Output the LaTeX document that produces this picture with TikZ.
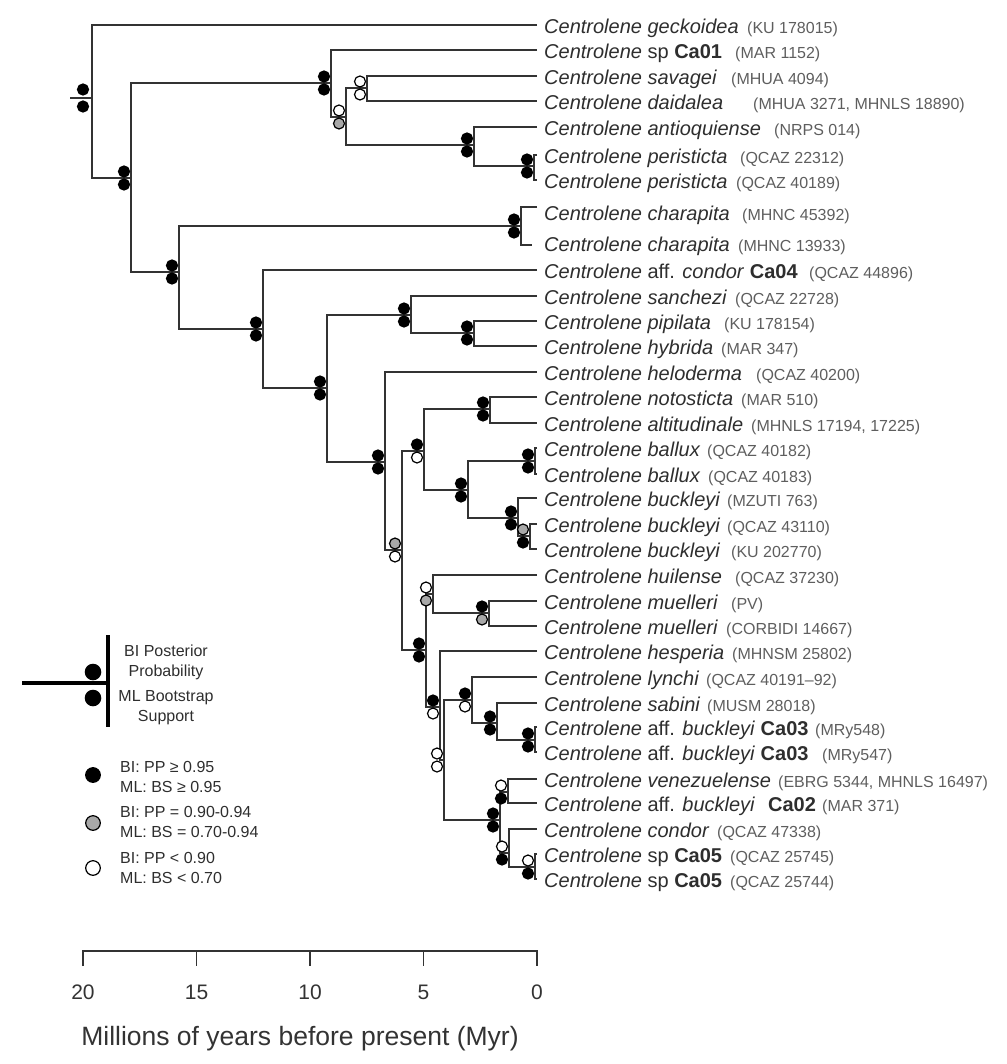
\documentclass[tikz,border=0pt]{standalone}
\usepackage{fontspec}
\setmainfont{Liberation Sans}
\definecolor{branchc}{HTML}{333333}
\definecolor{namec}{HTML}{2E2E2E}
\definecolor{catc}{HTML}{5E5E5E}
\definecolor{midgray}{HTML}{A8A8A8}
\tikzset{
  branch/.style={draw=branchc, line width=1.7pt},
  tname/.style={anchor=base west, inner sep=0pt, yshift=-8.5pt, text=namec, font=\fontsize{20}{24}\selectfont},
  tcat/.style={anchor=base west, inner sep=0pt, yshift=-8.5pt, text=catc, font=\fontsize{16}{19}\selectfont},
  lgtext/.style={inner sep=0pt, text=namec, font=\fontsize{16}{20}\selectfont},
  mk/.style={draw=black, line width=1.2pt},
}
% two support circles left of a node: BI on top, ML below
\newcommand{\nodesupport}[3]{%
  \draw[mk,fill=#2] ([shift={(-7,-6.5)}]#1) circle[radius=5.5pt];
  \draw[mk,fill=#3] ([shift={(-7,6.5)}]#1) circle[radius=5.5pt];}

\begin{document}
\begin{tikzpicture}[x=1pt,y=-1pt]
  \useasboundingbox (0,0) rectangle (1006,1064);
  % tips
  \coordinate (t1) at (537,25);   \coordinate (t2) at (537,50);
  \coordinate (t3) at (537,76);   \coordinate (t4) at (537,101);
  \coordinate (t5) at (537,127);  \coordinate (t6) at (537,155);
  \coordinate (t7) at (537,180);  \coordinate (t8) at (537,207);
  \coordinate (t9) at (532,245);  \coordinate (t10) at (537,270);
  \coordinate (t11) at (537,296); \coordinate (t12) at (537,321);
  \coordinate (t13) at (537,346); \coordinate (t14) at (537,372);
  \coordinate (t15) at (537,397); \coordinate (t16) at (537,423);
  \coordinate (t17) at (537,448); \coordinate (t18) at (537,474);
  \coordinate (t19) at (537,498); \coordinate (t20) at (537,524);
  \coordinate (t21) at (537,549); \coordinate (t22) at (537,575);
  \coordinate (t23) at (537,601); \coordinate (t24) at (537,626);
  \coordinate (t25) at (537,651); \coordinate (t26) at (537,677);
  \coordinate (t27) at (537,703); \coordinate (t28) at (537,727);
  \coordinate (t29) at (537,752); \coordinate (t30) at (537,779);
  \coordinate (t31) at (537,803); \coordinate (t32) at (537,829);
  \coordinate (t33) at (537,854); \coordinate (t34) at (537,879);
  % internal nodes
  \coordinate (r0) at (70,98);    \coordinate (rt) at (92,98);
  \coordinate (nA) at (131,178);  \coordinate (nB) at (331,83);
  \coordinate (nC) at (346,117);  \coordinate (nD) at (367,88);
  \coordinate (nE) at (474,145);  \coordinate (nF) at (534,166);
  \coordinate (nH) at (179,272);  \coordinate (nG) at (521,226);
  \coordinate (nI) at (263,329);  \coordinate (nL) at (327,388);
  \coordinate (nJ) at (411,315);  \coordinate (nK) at (474,333);
  \coordinate (nM) at (385,462);  \coordinate (nN) at (402,550);
  \coordinate (nO) at (424,451);  \coordinate (nP) at (490,409);
  \coordinate (nQ) at (468,490);  \coordinate (nR) at (535,461);
  \coordinate (nS) at (518,518);  \coordinate (nT) at (530,536);
  \coordinate (nU) at (426,650);  \coordinate (nUa) at (433,594);
  \coordinate (nUb) at (489,613); \coordinate (nV) at (440,707);
  \coordinate (nW) at (444,760);  \coordinate (nX) at (472,700);
  \coordinate (nY) at (497,723);  \coordinate (nZ) at (535,740);
  \coordinate (nCo) at (500,820); \coordinate (nVe) at (508,792);
  \coordinate (nCd) at (509,853); \coordinate (nSp) at (535,867);

  % branches
  \draw[branch] (r0) -- (rt);
  \draw[branch] (t1) -| (rt) |- (nA);
  \draw[branch] (nB) -| (nA) |- (nH);
  \draw[branch] (t2) -| (nB) |- (nC);
  \draw[branch] (nD) -| (nC) |- (nE);
  \draw[branch] (t3) -| (nD) |- (t4);
  \draw[branch] (t5) -| (nE) |- (nF);
  \draw[branch] (t6) -| (nF) |- (t7);
  \draw[branch] (nG) -| (nH) |- (nI);
  \draw[branch] (t8) -| (nG) |- (t9);
  \draw[branch] (t10) -| (nI) |- (nL);
  \draw[branch] (nJ) -| (nL) |- (nM);
  \draw[branch] (t11) -| (nJ) |- (nK);
  \draw[branch] (t12) -| (nK) |- (t13);
  \draw[branch] (t14) -| (nM) |- (nN);
  \draw[branch] (nO) -| (nN) |- (nU);
  \draw[branch] (nP) -| (nO) |- (nQ);
  \draw[branch] (t15) -| (nP) |- (t16);
  \draw[branch] (nR) -| (nQ) |- (nS);
  \draw[branch] (t17) -| (nR) |- (t18);
  \draw[branch] (t19) -| (nS) |- (nT);
  \draw[branch] (t20) -| (nT) |- (t21);
  \draw[branch] (nUa) -| (nU) |- (nV);
  \draw[branch] (t22) -| (nUa) |- (nUb);
  \draw[branch] (t23) -| (nUb) |- (t24);
  \draw[branch] (t25) -| (nV) |- (nW);
  \draw[branch] (nX) -| (nW) |- (nCo);
  \draw[branch] (t26) -| (nX) |- (nY);
  \draw[branch] (t27) -| (nY) |- (nZ);
  \draw[branch] (t28) -| (nZ) |- (t29);
  \draw[branch] (nVe) -| (nCo) |- (nCd);
  \draw[branch] (t30) -| (nVe) |- (t31);
  \draw[branch] (t32) -| (nCd) |- (nSp);
  \draw[branch] (t33) -| (nSp) |- (t34);

  % support values
  \draw[mk,fill=black] ([shift={(-9,-8.5)}]rt) circle[radius=5.5pt];
  \draw[mk,fill=black] ([shift={(-9,8.5)}]rt) circle[radius=5.5pt];
  \nodesupport{nA}{black}{black}
  \nodesupport{nB}{black}{black}
  \nodesupport{nC}{white}{midgray}
  \nodesupport{nD}{white}{white}
  \nodesupport{nE}{black}{black}
  \nodesupport{nF}{black}{black}
  \nodesupport{nH}{black}{black}
  \nodesupport{nG}{black}{black}
  \nodesupport{nI}{black}{black}
  \nodesupport{nL}{black}{black}
  \nodesupport{nJ}{black}{black}
  \nodesupport{nK}{black}{black}
  \nodesupport{nM}{black}{black}
  \nodesupport{nN}{midgray}{white}
  \nodesupport{nO}{black}{white}
  \nodesupport{nP}{black}{black}
  \nodesupport{nQ}{black}{black}
  \nodesupport{nR}{black}{black}
  \nodesupport{nS}{black}{black}
  \nodesupport{nT}{midgray}{black}
  \nodesupport{nU}{black}{black}
  \nodesupport{nUa}{white}{midgray}
  \nodesupport{nUb}{black}{midgray}
  \nodesupport{nV}{black}{white}
  \nodesupport{nW}{white}{white}
  \nodesupport{nX}{black}{white}
  \nodesupport{nY}{black}{black}
  \nodesupport{nZ}{black}{black}
  \nodesupport{nCo}{black}{black}
  \nodesupport{nVe}{white}{black}
  \nodesupport{nCd}{white}{black}
  \nodesupport{nSp}{white}{black}

  % taxon labels
  \node[tname] (n1) at (544,25) {\textit{Centrolene geckoidea}};
  \node[tcat] (k1) at (747,25) {(KU 178015)};
  \node[tname] (n2) at (544,50) {\textit{Centrolene} sp \textbf{Ca01}};
  \node[tcat] (k2) at (735,50) {(MAR 1152)};
  \node[tname] (n3) at (544,76) {\textit{Centrolene savagei}};
  \node[tcat] (k3) at (731,76) {(MHUA 4094)};
  \node[tname] (n4) at (544,101) {\textit{Centrolene daidalea}};
  \node[tcat] (k4) at (753,101) {(MHUA 3271, MHNLS 18890)};
  \node[tname] (n5) at (544,127) {\textit{Centrolene antioquiense}};
  \node[tcat] (k5) at (774,127) {(NRPS 014)};
  \node[tname] (n6) at (544,155) {\textit{Centrolene peristicta}};
  \node[tcat] (k6) at (740,155) {(QCAZ 22312)};
  \node[tname] (n7) at (544,180) {\textit{Centrolene peristicta}};
  \node[tcat] (k7) at (736,180) {(QCAZ 40189)};
  \node[tname] (n8) at (544,212) {\textit{Centrolene charapita}};
  \node[tcat] (k8) at (742,212) {(MHNC 45392)};
  \node[tname] (n9) at (544,243) {\textit{Centrolene charapita}};
  \node[tcat] (k9) at (738,243) {(MHNC 13933)};
  \node[tname] (n10) at (544,270) {\textit{Centrolene} aff. \textit{condor} \textbf{Ca04}};
  \node[tcat] (k10) at (809,270) {(QCAZ 44896)};
  \node[tname] (n11) at (544,296) {\textit{Centrolene sanchezi}};
  \node[tcat] (k11) at (735,296) {(QCAZ 22728)};
  \node[tname] (n12) at (544,321) {\textit{Centrolene pipilata}};
  \node[tcat] (k12) at (724,321) {(KU 178154)};
  \node[tname] (n13) at (544,346) {\textit{Centrolene hybrida}};
  \node[tcat] (k13) at (721,346) {(MAR 347)};
  \node[tname] (n14) at (544,372) {\textit{Centrolene heloderma}};
  \node[tcat] (k14) at (756,372) {(QCAZ 40200)};
  \node[tname] (n15) at (544,397) {\textit{Centrolene notosticta}};
  \node[tcat] (k15) at (741,397) {(MAR 510)};
  \node[tname] (n16) at (544,423) {\textit{Centrolene altitudinale}};
  \node[tcat] (k16) at (751,423) {(MHNLS 17194, 17225)};
  \node[tname] (n17) at (544,448) {\textit{Centrolene ballux}};
  \node[tcat] (k17) at (707,448) {(QCAZ 40182)};
  \node[tname] (n18) at (544,474) {\textit{Centrolene ballux}};
  \node[tcat] (k18) at (708,474) {(QCAZ 40183)};
  \node[tname] (n19) at (544,498) {\textit{Centrolene buckleyi}};
  \node[tcat] (k19) at (727,498) {(MZUTI 763)};
  \node[tname] (n20) at (544,524) {\textit{Centrolene buckleyi}};
  \node[tcat] (k20) at (727,524) {(QCAZ 43110)};
  \node[tname] (n21) at (544,549) {\textit{Centrolene buckleyi}};
  \node[tcat] (k21) at (731,549) {(KU 202770)};
  \node[tname] (n22) at (544,575) {\textit{Centrolene huilense}};
  \node[tcat] (k22) at (735,575) {(QCAZ 37230)};
  \node[tname] (n23) at (544,601) {\textit{Centrolene muelleri}};
  \node[tcat] (k23) at (731,601) {(PV)};
  \node[tname] (n24) at (544,626) {\textit{Centrolene muelleri}};
  \node[tcat] (k24) at (726,626) {(CORBIDI 14667)};
  \node[tname] (n25) at (544,651) {\textit{Centrolene hesperia}};
  \node[tcat] (k25) at (732,651) {(MHNSM 25802)};
  \node[tname] (n26) at (544,677) {\textit{Centrolene lynchi}};
  \node[tcat] (k26) at (706,677) {(QCAZ 40191--92)};
  \node[tname] (n27) at (544,703) {\textit{Centrolene sabini}};
  \node[tcat] (k27) at (707,703) {(MUSM 28018)};
  \node[tname] (n28) at (544,727) {\textit{Centrolene} aff. \textit{buckleyi} \textbf{Ca03}};
  \node[tcat] (k28) at (815,727) {(MRy548)};
  \node[tname] (n29) at (544,752) {\textit{Centrolene} aff. \textit{buckleyi} \textbf{Ca03}};
  \node[tcat] (k29) at (822,752) {(MRy547)};
  \node[tname] (n30) at (544,779) {\textit{Centrolene venezuelense}};
  \node[tcat] (k30) at (778,779) {(EBRG 5344, MHNLS 16497)};
  \node[tname] (n31) at (544,803) {\textit{Centrolene} aff. \textit{buckleyi}\hspace{0.65em}\textbf{Ca02}};
  \node[tcat] (k31) at (822,803) {(MAR 371)};
  \node[tname] (n32) at (544,829) {\textit{Centrolene condor}};
  \node[tcat] (k32) at (717,829) {(QCAZ 47338)};
  \node[tname] (n33) at (544,854) {\textit{Centrolene} sp \textbf{Ca05}};
  \node[tcat] (k33) at (730,854) {(QCAZ 25745)};
  \node[tname] (n34) at (544,879) {\textit{Centrolene} sp \textbf{Ca05}};
  \node[tcat] (k34) at (730,879) {(QCAZ 25744)};

  % legend
  \draw[line width=3.2pt] (22,683) -- (108,683);
  \draw[line width=3.2pt] (108,635) -- (108,727);
  \fill (93,672) circle[radius=8.3pt];
  \fill (93,698) circle[radius=8.3pt];
  \node[lgtext,align=center] (lgbi) at (166,662) {BI Posterior\\Probability};
  \node[lgtext,align=center] (lgml) at (166,708) {ML Bootstrap\\Support};
  \draw[mk,fill=black] (93,775) circle[radius=7.3pt];
  \draw[mk,fill=midgray] (93,823) circle[radius=7.3pt];
  \draw[mk,fill=white] (93,868) circle[radius=7.3pt];
  \node[lgtext,anchor=west,align=left] (lgb) at (120,777) {BI: PP ≥ 0.95\\ML: BS ≥ 0.95};
  \node[lgtext,anchor=west,align=left] (lgg) at (120,822) {BI: PP = 0.90-0.94\\ML: BS = 0.70-0.94};
  \node[lgtext,anchor=west,align=left] (lgw) at (120,867.5) {BI: PP < 0.90\\ML: BS < 0.70};

  % time axis
  \draw[draw=branchc,line width=1.6pt] (83,966) -- (83,951) -- (537,951) -- (537,966);
  \draw[draw=branchc,line width=1.6pt] (196.5,951) -- (196.5,966);
  \draw[draw=branchc,line width=1.6pt] (310,951) -- (310,966);
  \draw[draw=branchc,line width=1.6pt] (423.5,951) -- (423.5,966);
  \node[text=branchc,font=\fontsize{21}{25}\selectfont] (a20) at (83,992) {20};
  \node[text=branchc,font=\fontsize{21}{25}\selectfont] (a15) at (196.5,992) {15};
  \node[text=branchc,font=\fontsize{21}{25}\selectfont] (a10) at (310,992) {10};
  \node[text=branchc,font=\fontsize{21}{25}\selectfont] (a5) at (423.5,992) {5};
  \node[text=branchc,font=\fontsize{21}{25}\selectfont] (a0) at (537,992) {0};
  \node[text=branchc,font=\fontsize{26.5}{31}\selectfont] (axlab) at (300,1039) {Millions of years before present (Myr)};
\end{tikzpicture}
\end{document}
